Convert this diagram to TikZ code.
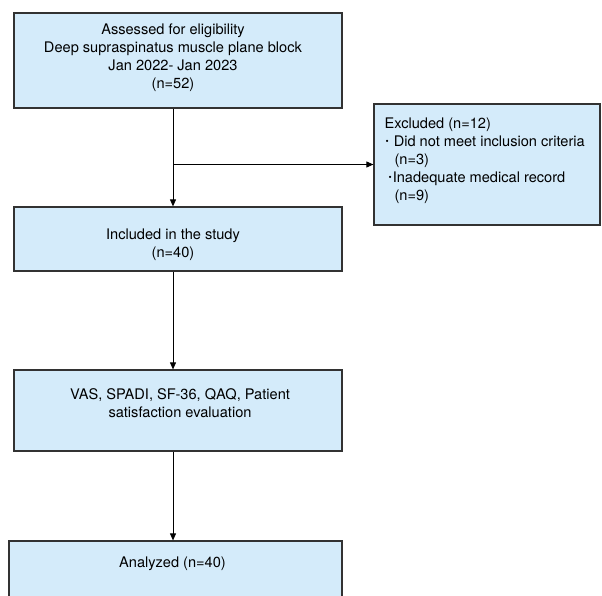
\documentclass[tikz,border=0pt]{standalone}
\usepackage{fontspec}
\setmainfont{TeX Gyre Heros}
\usetikzlibrary{arrows.meta}
\definecolor{boxblue}{RGB}{212,235,250}
\definecolor{boxline}{RGB}{50,50,50}

\begin{document}
\begin{tikzpicture}[x=1pt,y=-1pt,
box/.style={%
draw=boxline,
fill=boxblue,
line width=1.2pt,
minimum width=328pt,
align=center,
},
txt/.style={%
font=\fontsize{14.6}{18}\selectfont,
align=center,
inner sep=0pt,
},
flow/.style={%
line width=0.9pt,
-{Triangle[length=7pt,width=6pt]},
},
]
\useasboundingbox (0,0) rectangle (602,596);
%% Main column
\node[box,minimum height=95pt,
label={[txt,anchor=north,yshift=-11pt,xshift=-5pt]north:{Assessed for eligibility\\Deep supraspinatus muscle plane block\\Jan 2022- Jan 2023\\(n=52)}}](elig)at(178,60.5){};
\node[box,minimum height=64pt,
label={[txt,anchor=north,yshift=-22pt,xshift=-5pt]north:{Included in the study\\(n=40)}}](incl)at(178,239){};
\node[box,minimum height=81pt,
label={[txt,anchor=north,yshift=-19pt,xshift=2pt]north:{VAS, SPADI, SF-36, QAQ, Patient\\satisfaction evaluation}}](eval)at(178,410.5){};
\node[box,minimum width=333pt,minimum height=70pt,
label={[txt,anchor=north,yshift=-16pt,xshift=-3pt]north:{Analyzed (n=40)}}](ana)at(175.5,576){};
%% Excluded
\node[box,minimum width=226pt,minimum height=121pt,
label={[txt,align=left,anchor=north west,xshift=11pt,yshift=-14pt]north west:{Excluded (n=12)\\
\hspace*{1pt}{\fontsize{9}{9}\selectfont\raisebox{2pt}{•}}\hspace{5pt}Did not meet inclusion criteria\\
\hspace*{10pt}(n=3)\\
\hspace*{4pt}{\fontsize{9}{9}\selectfont\raisebox{2pt}{•}}\hspace{1pt}Inadequate medical record\\
\hspace*{10pt}(n=9)}}](excl)at(487,164.5){};
%% Arrows
\coordinate(split)at(173,164.5);
\draw[flow]([xshift=-5pt]elig.south)--([xshift=-5pt]incl.north);
\draw[flow](split)--(excl.west);
\draw[flow]([xshift=-5pt]incl.south)--([xshift=-5pt]eval.north);
\draw[flow]([xshift=-5pt]eval.south)--([xshift=-5pt]eval.south|-ana.north);
\end{tikzpicture}
\end{document}
